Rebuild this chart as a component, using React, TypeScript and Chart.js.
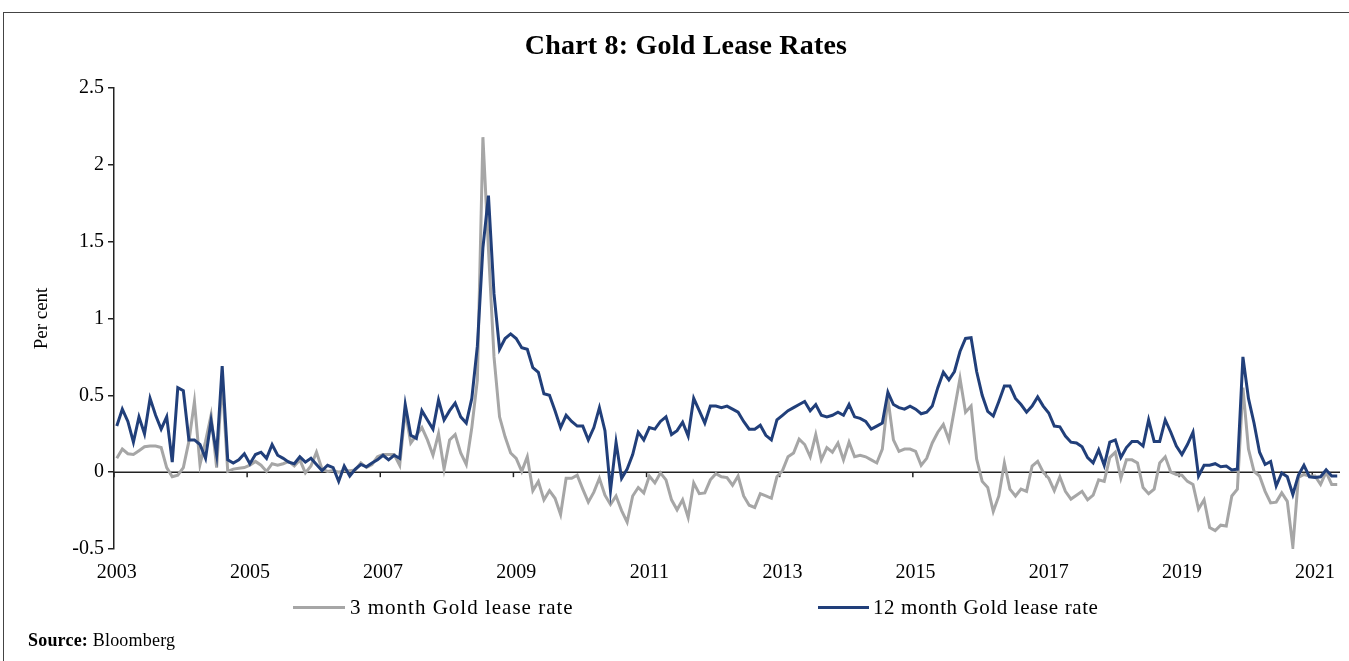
import React, { useEffect, useRef } from "react";
import { Chart, registerables } from "chart.js";

Chart.register(...registerables);

// ---- Data ----
const startYear = 2003;
const monthCount = 221; // Jan 2003 .. May 2021
const categories: string[] = Array.from({ length: monthCount }, (_, i) =>
  `${startYear + Math.floor(i / 12)}-${String((i % 12) + 1).padStart(2, "0")}`
);
const xTickLabels = ["2003", "2005", "2007", "2009", "2011", "2013", "2015", "2017", "2019", "2021"];
const yTickValues = [-0.5, 0, 0.5, 1, 1.5, 2, 2.5];

const lease3m = [
  0.09, 0.15, 0.12, 0.115, 0.14, 0.165, 0.17, 0.17, 0.16, 0.03,
  -0.03, -0.02, 0.03, 0.2, 0.46, 0.05, 0.2, 0.37, 0.03, 0.6,
  0.005, 0.02, 0.025, 0.03, 0.045, 0.07, 0.045, 0.005, 0.055, 0.045,
  0.055, 0.07, 0.04, 0.08, -0.005, 0.04, 0.13, 0.02, 0.005, 0.01,
  0.0, 0.01, 0.01, 0.015, 0.06, 0.03, 0.05, 0.1, 0.115, 0.115,
  0.115, 0.045, 0.4, 0.19, 0.24, 0.29, 0.21, 0.11, 0.25, 0.02,
  0.21, 0.245, 0.125, 0.05, 0.29, 0.6, 2.18, 1.45, 0.75, 0.36,
  0.23, 0.125, 0.09, 0.005, 0.1, -0.12, -0.06, -0.18, -0.12, -0.17,
  -0.275, -0.04, -0.04, -0.02, -0.11, -0.195, -0.13, -0.04, -0.15, -0.21,
  -0.155, -0.25, -0.325, -0.155, -0.1, -0.135, -0.025, -0.07, -0.005, -0.05,
  -0.18, -0.245, -0.18, -0.295, -0.07, -0.14, -0.135, -0.05, -0.01, -0.03,
  -0.035, -0.085, -0.025, -0.155, -0.215, -0.23, -0.14, -0.155, -0.17, -0.03,
  0.01, 0.1, 0.125, 0.215, 0.18, 0.1, 0.245, 0.08, 0.16, 0.13,
  0.19, 0.08, 0.195, 0.1, 0.11, 0.1, 0.08, 0.06, 0.15, 0.48,
  0.21, 0.135, 0.15, 0.15, 0.135, 0.045, 0.09, 0.19, 0.26, 0.31,
  0.21, 0.41, 0.61, 0.39, 0.43, 0.085, -0.06, -0.1, -0.255, -0.155,
  0.06, -0.11, -0.155, -0.11, -0.125, 0.04, 0.07, 0.0, -0.04, -0.12,
  -0.03, -0.125, -0.175, -0.15, -0.125, -0.18, -0.15, -0.05, -0.06, 0.095,
  0.13, -0.04, 0.08, 0.08, 0.06, -0.1, -0.14, -0.11, 0.06, 0.1,
  0.0, -0.015, -0.02, -0.06, -0.08, -0.24, -0.18, -0.36, -0.38, -0.345,
  -0.35, -0.155, -0.11, 0.55, 0.15, 0.005, -0.025, -0.125, -0.2, -0.195,
  -0.135, -0.19, -0.485, -0.035, -0.015, -0.025, -0.025, -0.08, 0.0, -0.08,
  -0.08,
];

const lease12m = [
  0.3, 0.41, 0.33, 0.195, 0.36, 0.25, 0.48, 0.37, 0.28, 0.36,
  0.065, 0.55, 0.53, 0.21, 0.21, 0.18, 0.09, 0.335, 0.115, 0.69,
  0.08, 0.06, 0.08, 0.12, 0.055, 0.115, 0.13, 0.09, 0.18, 0.11,
  0.09, 0.065, 0.055, 0.1, 0.065, 0.09, 0.05, 0.01, 0.045, 0.03,
  -0.06, 0.04, -0.025, 0.02, 0.05, 0.035, 0.06, 0.08, 0.11, 0.08,
  0.11, 0.09, 0.44, 0.24, 0.22, 0.4, 0.34, 0.28, 0.47, 0.34,
  0.4, 0.45, 0.36, 0.32, 0.48, 0.82, 1.46, 1.8, 1.16, 0.8,
  0.87, 0.9, 0.87, 0.81, 0.8, 0.68, 0.65, 0.51, 0.5, 0.4,
  0.29, 0.37, 0.33, 0.3, 0.3, 0.21, 0.29, 0.42, 0.27, -0.12,
  0.195, -0.04, 0.02, 0.115, 0.26, 0.21, 0.29, 0.28, 0.33, 0.36,
  0.245, 0.27, 0.325, 0.235, 0.48, 0.4, 0.32, 0.43, 0.43, 0.42,
  0.43, 0.41, 0.39, 0.33, 0.28, 0.28, 0.305, 0.24, 0.21, 0.34,
  0.37, 0.4, 0.42, 0.44, 0.46, 0.4, 0.44, 0.37, 0.36, 0.37,
  0.39, 0.37, 0.44, 0.36, 0.35, 0.33, 0.28, 0.3, 0.32, 0.52,
  0.44, 0.42, 0.41, 0.43, 0.41, 0.38, 0.39, 0.43, 0.55, 0.65,
  0.6, 0.655, 0.785, 0.87, 0.875, 0.655, 0.5, 0.395, 0.365, 0.46,
  0.56, 0.56, 0.48, 0.44, 0.39, 0.43, 0.49, 0.43, 0.385, 0.3,
  0.295, 0.235, 0.195, 0.19, 0.165, 0.095, 0.06, 0.145, 0.045, 0.195,
  0.21, 0.095, 0.16, 0.2, 0.2, 0.17, 0.34, 0.2, 0.2, 0.34,
  0.26, 0.17, 0.115, 0.18, 0.26, -0.025, 0.045, 0.045, 0.055, 0.035,
  0.04, 0.015, 0.02, 0.75, 0.48, 0.32, 0.13, 0.05, 0.07, -0.09,
  -0.005, -0.03, -0.145, -0.02, 0.045, -0.03, -0.035, -0.03, 0.015, -0.025,
  -0.025,
];

const seriesNames = ["3 month Gold lease rate", "12 month Gold lease rate"];
const GREY = "#A6A6A6";
const BLUE = "#213F7A";
const FONT = "'Liberation Serif', 'DejaVu Serif', serif";

// zero line + x tick marks at category boundaries, derived from the scales
const zeroAxisPlugin = {
  id: "zeroAxis",
  beforeDatasetsDraw(chart: any) {
    const { ctx, chartArea, scales } = chart;
    const x = scales.x;
    const y = scales.y;
    const y0 = y.getPixelForValue(0);
    ctx.save();
    ctx.strokeStyle = "#222";
    ctx.lineWidth = 1.5;
    ctx.beginPath();
    ctx.moveTo(chartArea.left, y0);
    ctx.lineTo(chartArea.right, y0);
    ctx.stroke();
    const half = (x.getPixelForValue(1) - x.getPixelForValue(0)) / 2;
    categories.forEach((c, i) => {
      const yr = c.slice(0, 4);
      if (c.endsWith("-01") && xTickLabels.includes(yr)) {
        const px = x.getPixelForValue(i) - half;
        ctx.beginPath();
        ctx.moveTo(px, y0);
        ctx.lineTo(px, y0 + 5);
        ctx.stroke();
      }
    });
    ctx.restore();
  },
};

export default function App() {
  const ref = useRef<HTMLCanvasElement | null>(null);

  useEffect(() => {
    if (!ref.current) return;
    const chart = new Chart(ref.current, {
      type: "line",
      data: {
        labels: categories,
        datasets: [
          {
            label: seriesNames[0],
            data: lease3m,
            borderColor: GREY,
            backgroundColor: GREY,
            borderWidth: 3,
            pointRadius: 0,
            tension: 0,
            order: 2,
          },
          {
            label: seriesNames[1],
            data: lease12m,
            borderColor: BLUE,
            backgroundColor: BLUE,
            borderWidth: 3,
            pointRadius: 0,
            tension: 0,
            order: 1,
          },
        ],
      },
      options: {
        animation: false,
        responsive: false,
        maintainAspectRatio: false,
        layout: { padding: { top: 88, right: 9, bottom: 72, left: 0 } },
        plugins: {
          legend: { display: false },
          title: { display: false },
          tooltip: { enabled: false },
        },
        scales: {
          x: {
            type: "category",
            offset: true,
            grid: { display: false, drawTicks: false },
            border: { display: false },
            afterFit: (s: any) => {
              s.height = 40;
            },
            ticks: {
              autoSkip: false,
              maxRotation: 0,
              minRotation: 0,
              padding: 12,
              color: "#000",
              font: { family: FONT, size: 20 },
              callback: (_v: any, i: number) => {
                const c = categories[i];
                const yr = c.slice(0, 4);
                return c.endsWith("-01") && xTickLabels.includes(yr) ? yr : null;
              },
            },
          },
          y: {
            type: "linear",
            min: yTickValues[0],
            max: yTickValues[yTickValues.length - 1],
            afterFit: (s: any) => {
              s.width = 114;
            },
            afterBuildTicks: (s: any) => {
              s.ticks = yTickValues.map((v) => ({ value: v }));
            },
            border: { display: true, color: "#222", width: 1.5 },
            grid: {
              drawOnChartArea: false,
              drawTicks: true,
              tickLength: 6,
              color: "#222",
              lineWidth: 1.5,
            },
            ticks: {
              color: "#000",
              padding: 4,
              font: { family: FONT, size: 20 },
              callback: (v: any) => String(v),
            },
            title: {
              display: true,
              text: "Per cent",
              color: "#000",
              font: { family: FONT, size: 19 },
              padding: { top: 31, bottom: 0 },
            },
          },
        },
      },
      plugins: [zeroAxisPlugin],
    });
    return () => chart.destroy();
  }, []);

  const textBase: React.CSSProperties = {
    position: "absolute",
    fontFamily: FONT,
    color: "#000",
    whiteSpace: "nowrap",
  };

  return (
    <div
      style={{
        position: "fixed",
        left: 0,
        top: 0,
        width: 1349,
        height: 661,
        overflow: "hidden",
        background: "#fff",
      }}
    >
      <div
        style={{
          position: "absolute",
          left: 3,
          top: 12,
          width: 1360,
          height: 670,
          border: "1.5px solid #444",
          boxSizing: "border-box",
        }}
      />
      <canvas
        ref={ref}
        width={1349}
        height={661}
        style={{ position: "absolute", left: 0, top: 0, width: 1349, height: 661 }}
      />
      <div
        style={{
          ...textBase,
          left: 0,
          width: 1372,
          top: 27,
          lineHeight: "36px",
          textAlign: "center",
          fontWeight: "bold",
          fontSize: 28,
          letterSpacing: "0.2px",
        }}
      >
        Chart 8: Gold Lease Rates
      </div>
      <div style={{ position: "absolute", left: 293, top: 606, width: 52, height: 3, background: GREY }} />
      <div style={{ ...textBase, left: 350, top: 594, lineHeight: "26px", fontSize: 21, letterSpacing: "1px" }}>
        {seriesNames[0]}
      </div>
      <div style={{ position: "absolute", left: 818, top: 606, width: 51, height: 3, background: BLUE }} />
      <div style={{ ...textBase, left: 873, top: 594, lineHeight: "26px", fontSize: 21, letterSpacing: "0.6px" }}>
        {seriesNames[1]}
      </div>
      <div style={{ ...textBase, left: 28, top: 629, lineHeight: "22px", fontSize: 18, letterSpacing: "0.2px" }}>
        <span style={{ fontWeight: "bold" }}>Source:</span> Bloomberg
      </div>
    </div>
  );
}
